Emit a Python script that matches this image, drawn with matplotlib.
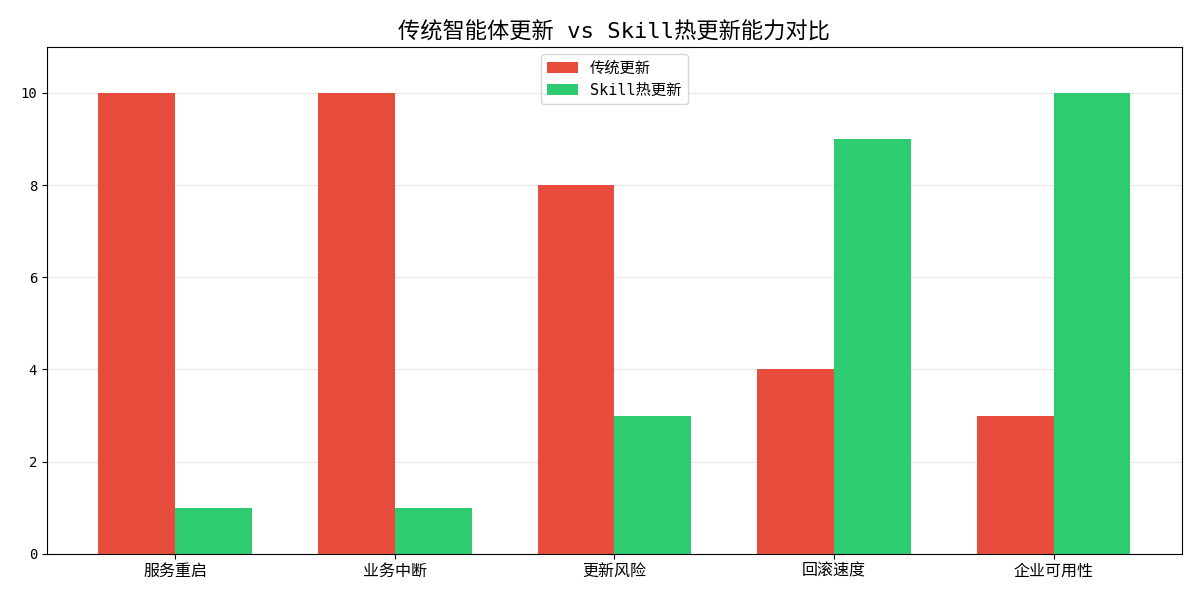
import matplotlib
matplotlib.use("Agg")
import matplotlib.pyplot as plt
import numpy as np

# Latin glyphs in the reference are monospaced, CJK falls back to Noto
plt.rcParams['font.family'] = ['DejaVu Sans Mono', 'Noto Sans CJK SC']
plt.rcParams['axes.unicode_minus'] = False

categories = ["服务重启", "业务中断", "更新风险", "回滚速度", "企业可用性"]
traditional = [10, 10, 8, 4, 3]
skill_hot = [1, 1, 3, 9, 10]
series_labels = ["传统更新", "Skill热更新"]

x = np.arange(len(categories))
width = 0.35

fig, ax = plt.subplots(figsize=(12, 6), dpi=100)
ax.bar(x - width / 2, traditional, width, color="#e74c3c", label=series_labels[0])
ax.bar(x + width / 2, skill_hot, width, color="#2ecc71", label=series_labels[1])

ax.set_xticks(x)
ax.set_xticklabels(categories, fontsize=11.5)
ax.set_ylim(0, 11)
ax.set_yticks([0, 2, 4, 6, 8, 10])
ax.tick_params(axis="y", labelsize=10)
ax.grid(axis="y", alpha=0.3)
ax.set_axisbelow(True)
ax.set_title("传统智能体更新 vs Skill热更新能力对比", fontsize=16)
ax.legend(loc="upper center", fontsize=11)

fig.subplots_adjust(left=0.039, right=0.985, top=0.922, bottom=0.077)
fig.savefig("out.png", dpi=100)
